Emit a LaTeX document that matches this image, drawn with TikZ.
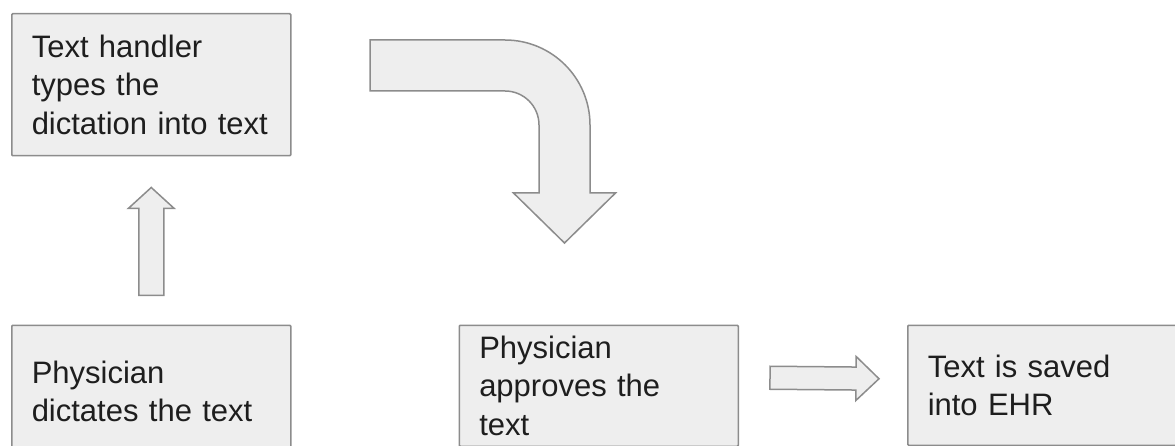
\documentclass[tikz,border=0pt]{standalone}
\usepackage{fontspec}
\setmainfont{Liberation Sans}
\usepackage{xcolor}
\usetikzlibrary{positioning, calc}

\definecolor{boxfill}{HTML}{EEEEEE}
\definecolor{boxline}{HTML}{8C8C8C}
\definecolor{ink}{HTML}{1E1E1E}

% block arrow: tail, tip, half shaft, half head, head length
\newcommand{\blockarrow}[5]{%
    \coordinate (ba-base) at ($(#2)!#5!(#1)$);
    \draw[blockarrow] ($(#1)!#3!90:(#2)$) -- ($(ba-base)!#3!-90:(#1)$)
        -- ($(ba-base)!#4!-90:(#1)$) -- (#2) -- ($(ba-base)!#4!90:(#1)$)
        -- ($(ba-base)!#3!90:(#1)$) -- ($(#1)!#3!-90:(#2)$) -- cycle;}

\begin{document}
\begin{tikzpicture}[
    x=1pt, y=-1pt,
    box/.style={
        draw=boxline,
        fill=boxfill,
        line width=1.5pt,
        rounded corners=1pt,
        align=left,
        text=ink,
        text width=239pt,
        minimum width=279pt,
        inner xsep=20pt,
        inner ysep=0pt,
        font=\fontsize{31}{38.5}\selectfont
    },
    blockarrow/.style={draw=boxline, fill=boxfill, line width=1.5pt, line join=miter}
]

\useasboundingbox (0,0) rectangle (1175,446);
\clip (0,0) rectangle (1175,446);

% --- Boxes ---
\node[box, minimum height=142pt, anchor=north west] (typing) at (11,13)
    {Text handler\\types the\\dictation into text};

\node[box, minimum height=132pt, below=168pt of typing] (dictate)
    {Physician\\dictates the text};

\node[box, minimum height=121pt, right=167pt of dictate.north east, anchor=north west] (approves)
    {Physician\\approves the\\text};

\node[box, minimum height=120pt, right=168pt of approves.north east, anchor=north west] (saved)
    {Text is saved\\into EHR};

% --- Straight arrows ---
\coordinate (up-tail) at ($(dictate.north)+(0,-29)$);
\coordinate (up-tip) at ($(typing.south)+(0,31)$);
\blockarrow{up-tail}{up-tip}{12.5pt}{23pt}{21pt}

\coordinate (right-tail) at ($(approves.east)+(31,-8)$);
\coordinate (right-tip) at ($(saved.west)+(-28,-6.5)$);
\blockarrow{right-tail}{right-tip}{11.5pt}{22pt}{23pt}

% --- Bent arrow ---
\coordinate (bend-tail) at (370,40);
\coordinate (bend-tip) at (564.5,243);
\draw[blockarrow] (bend-tail) -- ++(135,0) arc[start angle=-90, end angle=0, radius=85]
    -- ++(0,68) -- ++(25.5,0) -- (bend-tip) -- ++(-51,-50) -- ++(25.5,0)
    -- ++(0,-68) arc[start angle=0, end angle=-90, radius=34] -- ++(-135,0) -- cycle;

\end{tikzpicture}
\end{document}
